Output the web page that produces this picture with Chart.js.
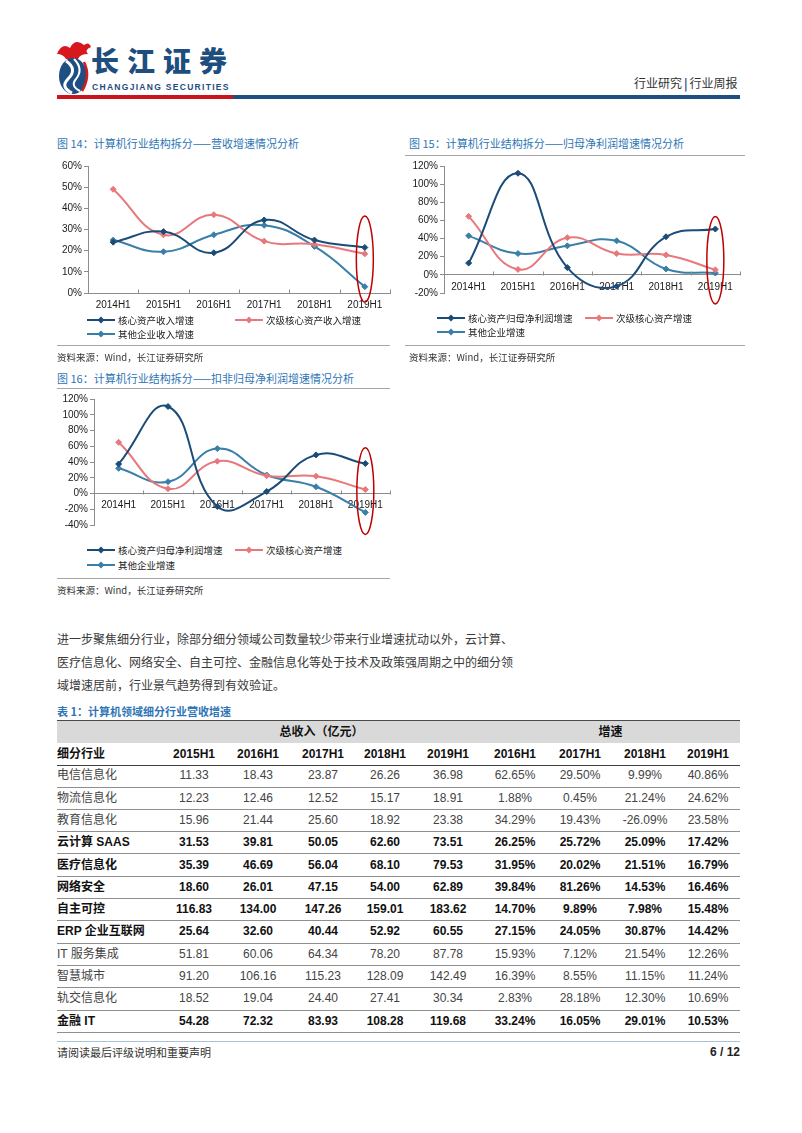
<!DOCTYPE html>
<html>
<head>
<meta charset="utf-8">
<script src="https://cdn.jsdelivr.net/npm/chart.js@4.4.0/dist/chart.umd.min.js"></script>
<style>
body{margin:0;background:#fff;width:802px;height:1133px;position:relative;overflow:hidden;font-family:"Liberation Sans","Noto Sans CJK SC",sans-serif;color:#333}
.abs{position:absolute;white-space:nowrap}
.ftitle{font-family:"Noto Sans CJK SC","Liberation Sans",sans-serif;font-size:11px;color:#2e75b6;line-height:14px}
.rule{position:absolute;height:0;border-top:1px solid #a6a6a6}
.src{font-family:"Noto Sans CJK SC",sans-serif;font-size:9.5px;color:#333;line-height:12px}
.lg{position:absolute;font-family:"Noto Sans CJK SC",sans-serif;font-size:9.5px;color:#222;line-height:12px;white-space:nowrap}
.lg svg{vertical-align:middle;margin-right:3px;position:relative;top:-1px}
.para{font-family:"Noto Sans CJK SC",sans-serif;font-size:12px;color:#3a3a3a;line-height:14px}
.row{position:absolute;left:57px;width:683px;font-size:12px;color:#333}
.cell{position:absolute;width:64px;text-align:center;white-space:nowrap}
canvas{position:absolute}
</style>
</head>
<body>

<!-- header -->
<svg class="abs" style="left:53px;top:38px" width="40" height="58">
  <path d="M4 16 Q9 4 17 10 Q22 0 31 7 Q36 3 38 9 Q31 12 35 16 Q27 16 25 21 L13 21 Q10 16 4 16Z" fill="#d7191f"/>
  <ellipse cx="20" cy="38" rx="14" ry="18" fill="#1d4f82"/>
  <path d="M13 23 Q25 31 15 41 Q7 49 19 55" stroke="#fff" stroke-width="3" fill="none"/>
  <path d="M21 21 Q31 31 23 41 Q17 48 27 53" stroke="#fff" stroke-width="2" fill="none"/>
  <path d="M31 24 Q38 38 29 53" stroke="#d7191f" stroke-width="2.5" fill="none"/>
</svg>
<div class="abs" style="left:91px;top:40px;font-family:'Noto Sans CJK SC';font-weight:900;font-size:28px;letter-spacing:8px;color:#1d4e7e">长江证券</div>
<div class="abs" style="left:92px;top:82px;font-weight:bold;font-size:8.5px;letter-spacing:1.3px;color:#1d4e7e">CHANGJIANG SECURITIES</div>
<div class="abs" style="left:634px;top:76px;font-family:'Noto Sans CJK SC';font-size:12px;color:#333;line-height:14px">行业研究<span style="font-weight:bold;color:#1d4e7e;margin:0 2px">|</span>行业周报</div>
<div class="abs" style="left:57px;top:95px;width:176px;height:4px;background:#c8161d"></div>
<div class="abs" style="left:233px;top:95px;width:507px;height:4px;background:#1d4f82"></div>

<!-- 图14 -->
<div class="abs ftitle" style="left:57px;top:136px">图 14：计算机行业结构拆分——营收增速情况分析</div>
<canvas id="c14" width="340" height="160" style="left:57px;top:156px"></canvas>
<div id="lg14"></div>
<div class="rule" style="left:57px;top:345px;width:333px"></div>
<div class="abs src" style="left:57px;top:351px">资料来源：Wind，长江证券研究所</div>

<!-- 图15 -->
<div class="abs ftitle" style="left:409px;top:136px">图 15：计算机行业结构拆分——归母净利润增速情况分析</div>
<div class="rule" style="left:405px;top:155px;width:340px"></div>
<canvas id="c15" width="350" height="154" style="left:400px;top:156px"></canvas>
<div id="lg15"></div>
<div class="rule" style="left:405px;top:345px;width:340px"></div>
<div class="abs src" style="left:409px;top:351px">资料来源：Wind，长江证券研究所</div>

<!-- 图16 -->
<div class="abs ftitle" style="left:57px;top:371px">图 16：计算机行业结构拆分——扣非归母净利润增速情况分析</div>
<div class="rule" style="left:57px;top:388px;width:333px"></div>
<canvas id="c16" width="340" height="151" style="left:57px;top:389px"></canvas>
<div id="lg16"></div>
<div class="rule" style="left:57px;top:578px;width:333px"></div>
<div class="abs src" style="left:57px;top:584px">资料来源：Wind，长江证券研究所</div>

<!-- 正文 -->
<div class="abs para" style="left:57px;top:632px">进一步聚焦细分行业，除部分细分领域公司数量较少带来行业增速扰动以外，云计算、</div>
<div class="abs para" style="left:57px;top:655px">医疗信息化、网络安全、自主可控、金融信息化等处于技术及政策强周期之中的细分领</div>
<div class="abs para" style="left:57px;top:678px">域增速居前，行业景气趋势得到有效验证。</div>

<!-- 表1 -->
<div class="abs" style="left:57px;top:704px;font-family:'Noto Sans CJK SC';font-weight:bold;font-size:11px;color:#2e75b6;line-height:14px">表 1：计算机领域细分行业营收增速</div>
<div id="tbl"></div>

<!-- footer -->
<div class="abs" style="left:57px;top:1041px;width:683px;height:1px;background:#a9c4d6"></div>
<div class="abs" style="left:57px;top:1045px;font-family:'Noto Sans CJK SC';font-size:11px;color:#333;line-height:14px">请阅读最后评级说明和重要声明</div>
<div class="abs" style="left:690px;top:1045px;width:50px;text-align:right;font-weight:bold;font-size:12px;color:#222;line-height:14px">6 / 12</div>

<script>
var categories = ['2014H1', '2015H1', '2016H1', '2017H1', '2018H1', '2019H1'];

// 图14 营收增速（%）
var revCore   = [24, 29, 19, 34.5, 25, 21.5];
var revSecond = [49, 27.5, 37, 24.5, 23, 18.5];
var revOther  = [25, 19.5, 27.5, 32, 22, 3];

// 图15 归母净利润增速（%）
var npCore   = [13, 112, 8, -12.5, 42, 50.5];
var npSecond = [64.5, 6, 41, 23.5, 22, 5.5];
var npOther  = [43, 23.5, 32, 37.5, 6.5, 2];

// 图16 扣非归母净利润增速（%）
var dnpCore   = [37.5, 110.5, -16.5, 2.5, 49, 38];
var dnpSecond = [65, 6, 41, 22.5, 22, 5];
var dnpOther  = [32, 15, 57, 23.5, 8.5, -24];

// 表1
var industries = ['电信信息化', '物流信息化', '教育信息化', '云计算 SAAS', '医疗信息化', '网络安全',
  '自主可控', 'ERP 企业互联网', 'IT 服务集成', '智慧城市', '轨交信息化', '金融 IT'];
var boldRows = [false, false, false, true, true, true, true, true, false, false, false, true];
var revYears = ['2015H1', '2016H1', '2017H1', '2018H1', '2019H1'];
var growthYears = ['2016H1', '2017H1', '2018H1', '2019H1'];
var revenue = [
  [11.33, 18.43, 23.87, 26.26, 36.98],
  [12.23, 12.46, 12.52, 15.17, 18.91],
  [15.96, 21.44, 25.60, 18.92, 23.38],
  [31.53, 39.81, 50.05, 62.60, 73.51],
  [35.39, 46.69, 56.04, 68.10, 79.53],
  [18.60, 26.01, 47.15, 54.00, 62.89],
  [116.83, 134.00, 147.26, 159.01, 183.62],
  [25.64, 32.60, 40.44, 52.92, 60.55],
  [51.81, 60.06, 64.34, 78.20, 87.78],
  [91.20, 106.16, 115.23, 128.09, 142.49],
  [18.52, 19.04, 24.40, 27.41, 30.34],
  [54.28, 72.32, 83.93, 108.28, 119.68]
];
var growth = [
  [62.65, 29.50, 9.99, 40.86],
  [1.88, 0.45, 21.24, 24.62],
  [34.29, 19.43, -26.09, 23.58],
  [26.25, 25.72, 25.09, 17.42],
  [31.95, 20.02, 21.51, 16.79],
  [39.84, 81.26, 14.53, 16.46],
  [14.70, 9.89, 7.98, 15.48],
  [27.15, 24.05, 30.87, 14.42],
  [15.93, 7.12, 21.54, 12.26],
  [16.39, 8.55, 11.15, 11.24],
  [2.83, 28.18, 12.30, 10.69],
  [33.24, 16.05, 29.01, 10.53]
];

var colCore = '#1b4c78', colSecond = '#e8787b', colOther = '#3a7fa8';

Chart.defaults.font.family = '"Liberation Sans", Arial, sans-serif';
Chart.defaults.color = '#1a1a1a';

// excel style: small up-ticks between categories on the zero line + red ring on 2019H1
var excelBits = {
  id: 'excelBits',
  afterDatasetsDraw: function(chart, args, o) {
    var ctx = chart.ctx, x = chart.scales.x, y = chart.scales.y;
    var zy = Math.round(y.getPixelForValue(0)) + 0.5;
    var n = x.ticks.length, step = (x.right - x.left) / n;
    ctx.save();
    ctx.strokeStyle = '#8c8c8c';
    ctx.lineWidth = 1;
    ctx.beginPath();
    for (var i = 1; i <= n; i++) {
      var px = Math.round(x.left + i * step) + 0.5;
      ctx.moveTo(px, zy);
      ctx.lineTo(px, zy - 4);
    }
    ctx.stroke();
    var cx = x.getPixelForValue(n - 1);
    var t = y.getPixelForValue(o.ringTop), b = y.getPixelForValue(o.ringBottom);
    ctx.strokeStyle = '#c00000';
    ctx.lineWidth = 1.5;
    ctx.beginPath();
    ctx.ellipse(cx, (t + b) / 2, 8.5, (b - t) / 2, 0, 0, Math.PI * 2);
    ctx.stroke();
    ctx.restore();
  }
};

function ds(label, data, color) {
  return {
    label: label, data: data, borderColor: color, backgroundColor: color,
    borderWidth: 2, pointStyle: 'rectRot', pointRadius: 3, pointHoverRadius: 3,
    pointBorderWidth: 1, tension: 0.45, fill: false
  };
}

function makeChart(id, sets, yMin, yMax, yStep, yWidth, pad, ring) {
  return new Chart(document.getElementById(id), {
    type: 'line',
    data: { labels: categories, datasets: sets },
    options: {
      responsive: false,
      animation: false,
      devicePixelRatio: 1,
      layout: { padding: pad },
      plugins: { legend: { display: false }, tooltip: { enabled: false }, excelBits: ring },
      scales: {
        x: {
          position: { y: 0 },
          offset: true,
          grid: { display: false, drawTicks: false },
          border: { color: '#8c8c8c', width: 1 },
          ticks: { font: { size: 10 }, padding: 6, maxRotation: 0, autoSkip: false }
        },
        y: {
          min: yMin, max: yMax,
          grid: { drawOnChartArea: false, drawTicks: true, tickLength: 4, color: '#8c8c8c' },
          border: { color: '#8c8c8c', width: 1 },
          ticks: { stepSize: yStep, font: { size: 10 }, padding: 2, callback: function(v) { return v + '%'; } },
          afterFit: function(s) { s.width = yWidth; }
        }
      }
    },
    plugins: [excelBits]
  });
}

function legendMarker(color) {
  return '<svg width="28" height="8"><line x1="0" y1="4" x2="28" y2="4" stroke="' + color +
    '" stroke-width="2"/><polygon points="14,0.5 17.5,4 14,7.5 10.5,4" fill="' + color + '"/></svg>';
}

function makeLegend(id, chart, spots) {
  var html = '';
  chart.data.datasets.forEach(function(d, i) {
    html += '<div class="lg" style="left:' + spots[i][0] + 'px;top:' + (spots[i][1] - 6) + 'px">' +
      legendMarker(d.borderColor) + d.label + '</div>';
  });
  document.getElementById(id).innerHTML = html;
}

var c14 = makeChart('c14', [
  ds('核心资产收入增速', revCore, colCore),
  ds('次级核心资产收入增速', revSecond, colSecond),
  ds('其他企业收入增速', revOther, colOther)
], 0, 60, 10, 31, { top: 10, right: 7, bottom: 23, left: 0 }, { ringTop: 36.4, ringBottom: -4.3 });

var c15 = makeChart('c15', [
  ds('核心资产归母净利润增速', npCore, colCore),
  ds('次级核心资产增速', npSecond, colSecond),
  ds('其他企业增速', npOther, colOther)
], -20, 120, 20, 44, { top: 10, right: 10, bottom: 17, left: 0 }, { ringTop: 64.4, ringBottom: -32 });

var c16 = makeChart('c16', [
  ds('核心资产归母净利润增速', dnpCore, colCore),
  ds('次级核心资产增速', dnpSecond, colSecond),
  ds('其他企业增速', dnpOther, colOther)
], -40, 120, 20, 37, { top: 10, right: 7, bottom: 15, left: 0 }, { ringTop: 58, ringBottom: -52 });

makeLegend('lg14', c14, [[87, 320], [235, 320], [87, 334]]);
makeLegend('lg15', c15, [[437, 318], [585, 318], [437, 332]]);
makeLegend('lg16', c16, [[87, 550], [235, 550], [87, 565]]);

// table
var colCenters = [194, 258, 323, 385, 448, 515, 580, 645, 708];
function cell(text, ci, bold) {
  return '<span class="cell" style="left:' + (colCenters[ci] - 57 - 32) + 'px;' +
    (bold ? 'font-weight:bold;color:#111' : '') + '">' + text + '</span>';
}
var rowH = 22.3;
var html = '<div class="row" style="top:720px;height:22px;background:#d9d9d9;border-top:1.5px solid #4a4a4a;font-weight:bold;color:#111">' +
  '<span class="cell" style="left:105px;width:319px;line-height:22px">总收入（亿元）</span>' +
  '<span class="cell" style="left:424px;width:259px;line-height:22px">增速</span></div>';
var top0 = 743;
html += '<div class="row" style="top:' + top0 + 'px;height:' + rowH + 'px;line-height:' + rowH + 'px;border-bottom:1px solid #404040;font-weight:bold;color:#111">' +
  '<span class="abs" style="left:0">细分行业</span>';
revYears.forEach(function(y, i) { html += cell(y, i, true); });
growthYears.forEach(function(y, i) { html += cell(y, i + 5, true); });
html += '</div>';
industries.forEach(function(name, r) {
  var t = top0 + (r + 1) * rowH;
  var b = boldRows[r];
  html += '<div class="row" style="top:' + t.toFixed(1) + 'px;height:' + (rowH - 1) + 'px;line-height:' + (rowH - 1) +
    'px;border-bottom:1px solid #8f8f8f;' + (b ? 'font-weight:bold;color:#111' : 'color:#444') + '">' +
    '<span class="abs" style="left:0">' + name + '</span>';
  revenue[r].forEach(function(v, i) { html += cell(v.toFixed(2), i, false); });
  growth[r].forEach(function(v, i) { html += cell(v.toFixed(2) + '%', i + 5, false); });
  html += '</div>';
});
document.getElementById('tbl').innerHTML = html;
</script>
</body>
</html>
